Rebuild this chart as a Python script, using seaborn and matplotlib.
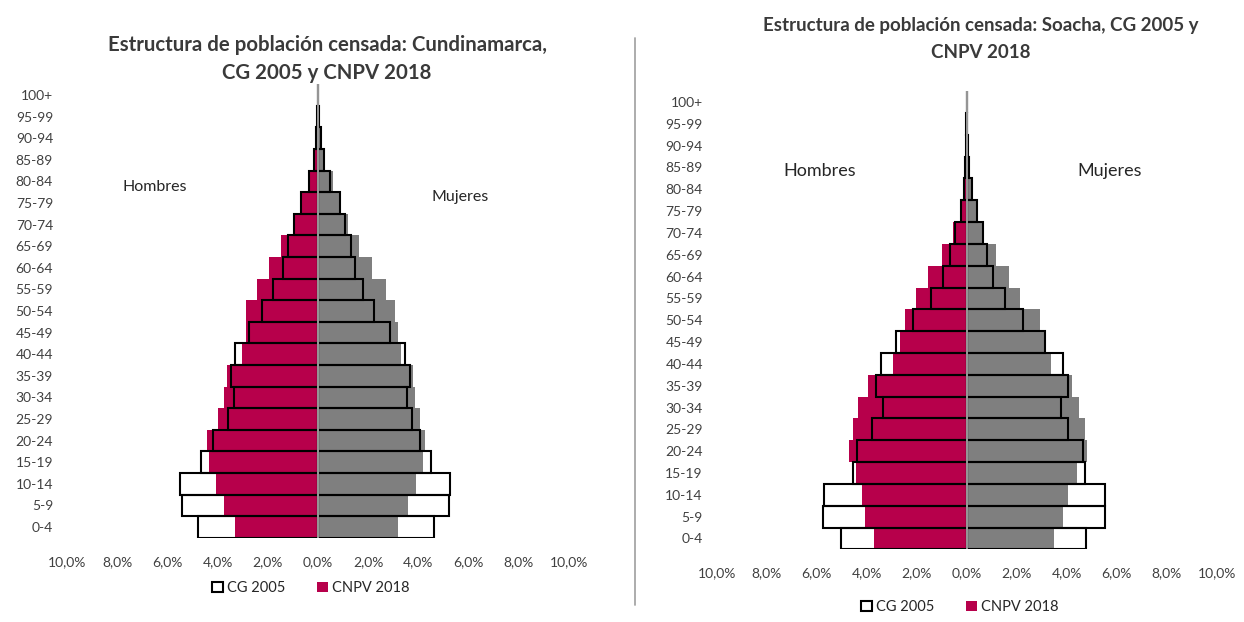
import numpy as np
import pandas as pd
import matplotlib
matplotlib.use("Agg")
import matplotlib.pyplot as plt
from matplotlib.patches import Patch
from matplotlib.ticker import FuncFormatter
import seaborn as sns

# ---------------- data (percent of total population) ----------------
ages = ["0-4", "5-9", "10-14", "15-19", "20-24", "25-29", "30-34", "35-39",
        "40-44", "45-49", "50-54", "55-59", "60-64", "65-69", "70-74",
        "75-79", "80-84", "85-89", "90-94", "95-99", "100+"]

# Cundinamarca
cun_male_cg2005 = [4.79, 5.42, 5.49, 4.65, 4.19, 3.60, 3.35, 3.46, 3.31, 2.75,
                   2.25, 1.79, 1.39, 1.18, 0.95, 0.68, 0.36, 0.16, 0.08, 0.02, 0.005]
cun_male_cnpv2018 = [3.32, 3.74, 4.07, 4.36, 4.43, 3.99, 3.73, 3.64, 3.04, 2.88,
                     2.85, 2.45, 1.97, 1.48, 0.95, 0.70, 0.34, 0.17, 0.06, 0.01, 0.003]
cun_female_cg2005 = [4.64, 5.23, 5.25, 4.52, 4.06, 3.73, 3.55, 3.68, 3.47, 2.85,
                     2.25, 1.79, 1.46, 1.30, 1.06, 0.86, 0.46, 0.24, 0.10, 0.02, 0.005]
cun_female_cnpv2018 = [3.19, 3.57, 3.90, 4.17, 4.27, 4.06, 3.87, 3.80, 3.31, 3.17,
                       3.08, 2.71, 2.16, 1.63, 1.19, 0.90, 0.60, 0.25, 0.09, 0.03, 0.005]

# Soacha
soa_male_cg2005 = [5.04, 5.76, 5.71, 4.56, 4.37, 3.80, 3.36, 3.63, 3.44, 2.83,
                   2.16, 1.43, 0.93, 0.67, 0.47, 0.24, 0.11, 0.06, 0.02, 0.01, 0.003]
soa_male_cnpv2018 = [3.71, 4.07, 4.20, 4.43, 4.69, 4.53, 4.33, 3.96, 2.96, 2.67,
                     2.47, 2.04, 1.53, 1.00, 0.53, 0.26, 0.14, 0.05, 0.02, 0.01, 0.003]
soa_female_cg2005 = [4.77, 5.53, 5.53, 4.73, 4.64, 4.07, 3.76, 4.07, 3.87, 3.13,
                     2.27, 1.53, 1.04, 0.80, 0.67, 0.40, 0.23, 0.11, 0.04, 0.01, 0.003]
soa_female_cnpv2018 = [3.49, 3.87, 4.07, 4.43, 4.80, 4.73, 4.51, 4.20, 3.36, 3.13,
                       2.93, 2.15, 1.71, 1.17, 0.67, 0.42, 0.22, 0.11, 0.04, 0.01, 0.003]

titles = ["Estructura de población censada: Cundinamarca,", "CG 2005 y CNPV 2018",
          "Estructura de población censada: Soacha, CG 2005 y", "CNPV 2018"]
series_names = ["CG 2005", "CNPV 2018"]
side_names = ["Hombres", "Mujeres"]
xticks = [-10, -8, -6, -4, -2, 0, 2, 4, 6, 8, 10]

# ---------------- style ----------------
sns.set_theme(style="white")
plt.rcParams["font.family"] = ["Lato", "DejaVu Sans"]

RED = "#B7004B"
GRAY = "#7F7F7F"
TXT = "#262626"
TICK = "#404040"

W, H = 1244, 622
fig = plt.figure(figsize=(W / 100, H / 100), dpi=100)
fig.patch.set_facecolor("white")

order = ages[::-1]  # 100+ at top


def pyramid(ax, m_cg, m_new, f_cg, f_new):
    df = pd.DataFrame({
        "age": ages,
        "m_cg": -np.array(m_cg), "m_new": -np.array(m_new),
        "f_cg": np.array(f_cg), "f_new": np.array(f_new),
    })
    sns.barplot(data=df, x="m_new", y="age", order=order, orient="h", ax=ax,
                color=RED, saturation=1, width=1.0, errorbar=None,
                edgecolor="none", linewidth=0)
    sns.barplot(data=df, x="f_new", y="age", order=order, orient="h", ax=ax,
                color=GRAY, saturation=1, width=1.0, errorbar=None,
                edgecolor="none", linewidth=0)
    sns.barplot(data=df, x="m_cg", y="age", order=order, orient="h", ax=ax,
                color="black", fill=False, width=1.0, errorbar=None, linewidth=1.5)
    sns.barplot(data=df, x="f_cg", y="age", order=order, orient="h", ax=ax,
                color="black", fill=False, width=1.0, errorbar=None, linewidth=1.5)
    ax.axvline(0, color="#A6A6A6", lw=1.3, zorder=10)
    ax.set_xlim(-10, 10)
    ax.set_ylim(len(ages) - 0.5, -0.5)
    ax.set_xticks(xticks)
    ax.xaxis.set_major_formatter(
        FuncFormatter(lambda v, p: f"{abs(v):.1f}".replace(".", ",") + "%"))
    ax.set_xlabel("")
    ax.set_ylabel("")
    ax.tick_params(axis="both", length=0, labelsize=10, colors=TICK)
    ax.tick_params(axis="x", pad=13)
    ax.tick_params(axis="y", pad=10)
    for s in ax.spines.values():
        s.set_visible(False)
    ax.set_facecolor("none")


# left chart
ax1 = fig.add_axes([67 / W, 1 - 537.8 / H, (569 - 67) / W, (537.8 - 84.2) / H])
pyramid(ax1, cun_male_cg2005, cun_male_cnpv2018, cun_female_cg2005, cun_female_cnpv2018)

# right chart
ax2 = fig.add_axes([716.7 / W, 1 - 549.4 / H, (1216.7 - 716.7) / W, (549.4 - 91.1) / H])
pyramid(ax2, soa_male_cg2005, soa_male_cnpv2018, soa_female_cg2005, soa_female_cnpv2018)

# titles
kwl = dict(ha="center", va="center", fontsize=14.7, fontweight="bold", color="#3A3A3A")
kwr = dict(ha="center", va="center", fontsize=13.5, fontweight="bold", color="#3A3A3A")
fig.text(328 / W, 1 - 45 / H, titles[0], **kwl)
fig.text(327 / W, 1 - 73 / H, titles[1], **kwl)
fig.text(981 / W, 1 - 25 / H, titles[2], **kwr)
fig.text(981 / W, 1 - 52 / H, titles[3], **kwr)

# side labels
fig.text(155 / W, 1 - 187 / H, side_names[0], ha="center", va="center", fontsize=11.5, color=TXT)
fig.text(460 / W, 1 - 197 / H, side_names[1], ha="center", va="center", fontsize=11.5, color=TXT)
fig.text(820 / W, 1 - 171 / H, side_names[0], ha="center", va="center", fontsize=13, color=TXT)
fig.text(1110 / W, 1 - 171 / H, side_names[1], ha="center", va="center", fontsize=13, color=TXT)

# separator line
fig.add_artist(plt.Line2D([635 / W, 635 / W], [1 - 38 / H, 1 - 605 / H],
                          color="#A6A6A6", lw=1.3, transform=fig.transFigure))

# legends
handles = [Patch(facecolor="white", edgecolor="black", linewidth=1.5, label=series_names[0]),
           Patch(facecolor=RED, edgecolor="none", label=series_names[1])]
for (cx, cy) in [(311 / W, 1 - 588 / H), (960 / W, 1 - 607 / H)]:
    fig.legend(handles=handles, loc="center", bbox_to_anchor=(cx, cy), ncol=2,
               frameon=False, fontsize=10.5, handlelength=0.7, handleheight=0.7,
               handletextpad=0.3, columnspacing=2.2, labelcolor=TXT)

fig.savefig("out.png", dpi=100, facecolor="white")
